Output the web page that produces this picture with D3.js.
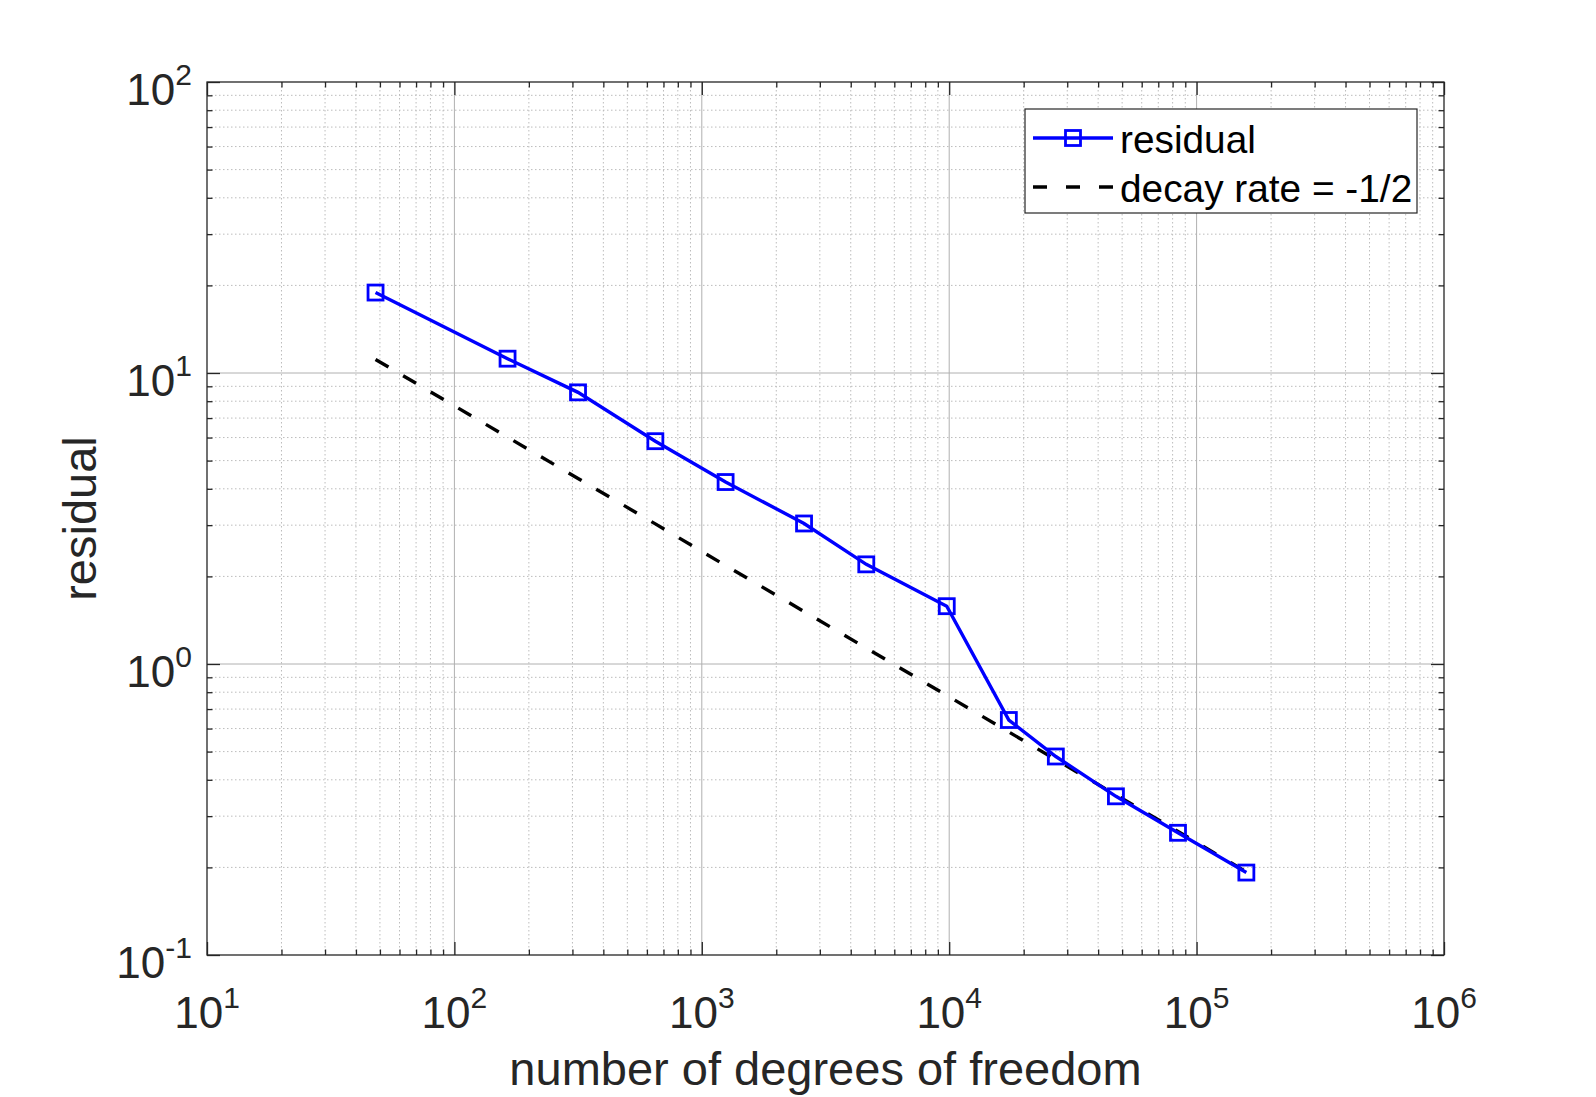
<!DOCTYPE html>
<html>
<head>
<meta charset="utf-8">
<script src="https://cdn.jsdelivr.net/npm/d3@7"></script>
<style>
  html, body { margin: 0; padding: 0; background: #fff; }
  svg { display: block; }
  text { font-family: "Liberation Sans", Arial, Helvetica, sans-serif; }
</style>
</head>
<body>
<svg id="chart" width="1596" height="1097"></svg>
<script>
// ---- data ----
const dofs = [48, 164, 316, 649, 1248, 2590, 4622, 9775, 17420, 26980, 47200, 84100, 158900];
const residual = [18.9, 11.2, 8.58, 5.83, 4.22, 3.04, 2.20, 1.58, 0.642, 0.481, 0.351, 0.263, 0.192];
const decayRef = [11.13, 6.02, 4.34, 3.03, 2.18, 1.515, 1.134, 0.780, 0.584, 0.469, 0.355, 0.266, 0.193];
const xTickExponents = [1, 2, 3, 4, 5, 6];
const yTickExponents = [-1, 0, 1, 2];
const seriesNames = ["residual", "decay rate = -1/2"];
const xLabel = "number of degrees of freedom";
const yLabel = "residual";

// ---- layout ----
const W = 1596, H = 1097;
const L = 207, T = 82, R = 1444, B = 955;
const axisColor = "#262626";
const tickFont = 44, supFont = 30, labelFont = 47, legendFont = 38.8;

const svg = d3.select("#chart");
svg.append("rect").attr("width", W).attr("height", H).attr("fill", "#fff");

const x = d3.scaleLog().domain([10, 1e6]).range([L, R]);
const y = d3.scaleLog().domain([0.1, 100]).range([B, T]);

const isMajor = v => Math.abs(Math.log10(v) - Math.round(Math.log10(v))) < 1e-9;
const xAll = x.ticks();
const yAll = y.ticks();
const xMajor = xTickExponents.map(e => Math.pow(10, e));
const yMajor = yTickExponents.map(e => Math.pow(10, e));
const xMinor = xAll.filter(v => !isMajor(v));
const yMinor = yAll.filter(v => !isMajor(v));

// ---- grid ----
const grid = svg.append("g");
grid.selectAll(".mgx").data(xMinor).join("line")
  .attr("x1", d => x(d)).attr("x2", d => x(d)).attr("y1", T).attr("y2", B)
  .attr("stroke", "#bcbcbc").attr("stroke-width", 1).attr("stroke-dasharray", "1.5 2.5");
grid.selectAll(".mgy").data(yMinor).join("line")
  .attr("y1", d => y(d)).attr("y2", d => y(d)).attr("x1", L).attr("x2", R)
  .attr("stroke", "#bcbcbc").attr("stroke-width", 1).attr("stroke-dasharray", "1.5 2.5");
grid.selectAll(".Mgx").data(xMajor.slice(1, -1)).join("line")
  .attr("x1", d => x(d)).attr("x2", d => x(d)).attr("y1", T).attr("y2", B)
  .attr("stroke", "#b0b0b0").attr("stroke-width", 1);
grid.selectAll(".Mgy").data(yMajor.slice(1, -1)).join("line")
  .attr("y1", d => y(d)).attr("y2", d => y(d)).attr("x1", L).attr("x2", R)
  .attr("stroke", "#b0b0b0").attr("stroke-width", 1);

// ---- data lines ----
const pts = dofs.map((d, i) => ({x: d, r: residual[i], k: decayRef[i]}));
const lineRes = d3.line().x(d => x(d.x)).y(d => y(d.r));
const lineRef = d3.line().x(d => x(d.x)).y(d => y(d.k));

svg.append("path").attr("d", lineRef(pts))
  .attr("fill", "none").attr("stroke", "#000").attr("stroke-width", 3.4)
  .attr("stroke-dasharray", "15 17");
svg.append("path").attr("d", lineRes(pts))
  .attr("fill", "none").attr("stroke", "#0000ff").attr("stroke-width", 3.4);
const ms = 15;
svg.selectAll(".mk").data(pts).join("rect")
  .attr("x", d => x(d.x) - ms / 2).attr("y", d => y(d.r) - ms / 2)
  .attr("width", ms).attr("height", ms)
  .attr("fill", "none").attr("stroke", "#0000ff").attr("stroke-width", 2.8);

// ---- axes (ticks inward on all four sides) ----
function styleAxis(g) {
  g.select(".domain").remove();
  g.selectAll(".tick line").attr("stroke", axisColor).attr("stroke-width", 1.3);
  g.selectAll(".tick text").remove();
}
const majLen = 13, minLen = 5.5;
svg.append("g").attr("transform", `translate(0,${B})`)
  .call(d3.axisBottom(x).tickValues(xMajor).tickSize(-majLen).tickFormat("")).call(styleAxis);
svg.append("g").attr("transform", `translate(0,${B})`)
  .call(d3.axisBottom(x).tickValues(xMinor).tickSize(-minLen).tickFormat("")).call(styleAxis);
svg.append("g").attr("transform", `translate(0,${T})`)
  .call(d3.axisTop(x).tickValues(xMajor).tickSize(-majLen).tickFormat("")).call(styleAxis);
svg.append("g").attr("transform", `translate(0,${T})`)
  .call(d3.axisTop(x).tickValues(xMinor).tickSize(-minLen).tickFormat("")).call(styleAxis);
svg.append("g").attr("transform", `translate(${L},0)`)
  .call(d3.axisLeft(y).tickValues(yMajor).tickSize(-majLen).tickFormat("")).call(styleAxis);
svg.append("g").attr("transform", `translate(${L},0)`)
  .call(d3.axisLeft(y).tickValues(yMinor).tickSize(-minLen).tickFormat("")).call(styleAxis);
svg.append("g").attr("transform", `translate(${R},0)`)
  .call(d3.axisRight(y).tickValues(yMajor).tickSize(-majLen).tickFormat("")).call(styleAxis);
svg.append("g").attr("transform", `translate(${R},0)`)
  .call(d3.axisRight(y).tickValues(yMinor).tickSize(-minLen).tickFormat("")).call(styleAxis);

svg.append("rect").attr("x", L).attr("y", T).attr("width", R - L).attr("height", B - T)
  .attr("fill", "none").attr("stroke", axisColor).attr("stroke-width", 1.3);

// ---- tick labels ----
function powLabel(sel, e) {
  sel.append("tspan").text("10");
  sel.append("tspan").attr("dy", -20).attr("font-size", supFont).text(String(e));
}
svg.selectAll(".xl").data(xTickExponents).join("text")
  .attr("x", e => x(Math.pow(10, e))).attr("y", B + 73)
  .attr("text-anchor", "middle").attr("font-size", tickFont).attr("fill", axisColor)
  .each(function(e) { powLabel(d3.select(this), e); });
svg.selectAll(".yl").data(yTickExponents).join("text")
  .attr("x", 192).attr("y", e => y(Math.pow(10, e)) + 23)
  .attr("text-anchor", "end").attr("font-size", tickFont).attr("fill", axisColor)
  .each(function(e) { powLabel(d3.select(this), e); });

// ---- axis labels ----
svg.append("text").attr("x", (L + R) / 2).attr("y", 1085)
  .attr("text-anchor", "middle").attr("font-size", labelFont).attr("fill", axisColor)
  .text(xLabel);
svg.append("text").attr("transform", `translate(96,${(T + B) / 2}) rotate(-90)`)
  .attr("text-anchor", "middle").attr("font-size", labelFont).attr("fill", axisColor)
  .text(yLabel);

// ---- legend ----
const lg = svg.append("g");
lg.append("rect").attr("x", 1025).attr("y", 109).attr("width", 392).attr("height", 104)
  .attr("fill", "#fff").attr("stroke", axisColor).attr("stroke-width", 1.2);
const rows = [138, 187];
lg.append("line").attr("x1", 1033).attr("x2", 1113).attr("y1", rows[0]).attr("y2", rows[0])
  .attr("stroke", "#0000ff").attr("stroke-width", 3.4);
lg.append("rect").attr("x", 1073 - ms / 2).attr("y", rows[0] - ms / 2).attr("width", ms).attr("height", ms)
  .attr("fill", "none").attr("stroke", "#0000ff").attr("stroke-width", 2.8);
lg.append("line").attr("x1", 1033).attr("x2", 1113).attr("y1", rows[1]).attr("y2", rows[1])
  .attr("stroke", "#000").attr("stroke-width", 3.4).attr("stroke-dasharray", "14 19");
lg.selectAll(".lt").data(seriesNames).join("text")
  .attr("x", 1120).attr("y", (d, i) => rows[i] + 14.5)
  .attr("font-size", legendFont).attr("fill", "#000").text(d => d);
</script>
</body>
</html>
